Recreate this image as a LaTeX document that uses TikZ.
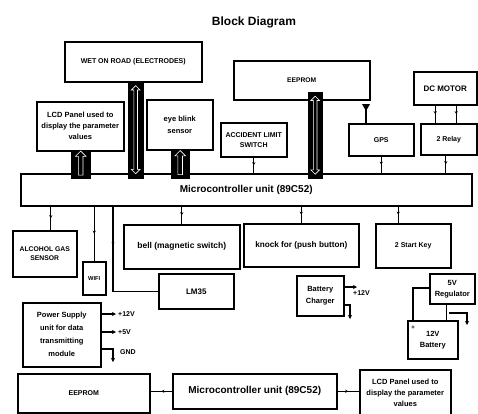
\documentclass[tikz,border=0pt]{standalone}
\usepackage{fontspec}
\setmainfont{Liberation Sans}
\usetikzlibrary{arrows.meta,shapes.arrows,decorations.markings}
\newcommand{\fz}[2]{\fontsize{#1}{#2}\selectfont\bfseries}
\begin{document}
\begin{tikzpicture}[x=1pt,y=-1pt,
  box/.style={draw, line width=1.5pt, anchor=north west, inner sep=1pt, align=center, font=\fz{7.5}{11}},
  bar/.style={fill=black, draw=black, anchor=north west, inner sep=0pt},
  dblarrow/.style={double arrow, rotate=90, draw=white, fill=black, line width=0.6pt, inner sep=1.5pt, double arrow head extend=2.5pt},
  uparrow/.style={single arrow, rotate=90, draw=white, fill=black, line width=0.6pt, inner sep=2pt, single arrow head extend=3pt},
  conn/.style={line width=1.1pt},
  mid/.style={postaction={decorate}, decoration={markings, mark=at position #1 with {\arrow{Stealth[length=3pt,width=3pt]}}}},
  mid/.default=0.5,
  tip/.style={-{Stealth[length=4pt,width=4pt]}},
  lbl/.style={font=\fz{7}{8}, inner sep=0pt, anchor=west}
]
\useasboundingbox (0,0) rectangle (478,413);
\fill[white] (0,0) rectangle (478,413);

% title
\node[font=\fz{12}{14}] (title) at (254,22) {Block Diagram};

% top boxes
\node[box, minimum width=137, minimum height=40, font=\fz{7}{9}] (wet) at (64,41) {WET ON ROAD (ELECTRODES)};
\node[box, minimum width=87, minimum height=49] (lcd1) at (36,101) {LCD Panel used to\\display the parameter\\values};
\node[box, minimum width=66, minimum height=50, font=\fz{7.5}{12}] (eye) at (146,99) {eye blink\\sensor};
\node[box, minimum width=136, minimum height=39, font=\fz{6.7}{8}] (eep1) at (233,60) {EEPROM};
\node[box, minimum width=66, minimum height=34, font=\fz{7}{10}] (acc) at (220,122) {ACCIDENT LIMIT\\SWITCH};
\node[box, minimum width=65, minimum height=32, font=\fz{7}{9}] (gps) at (348,123) {GPS};
\node[box, minimum width=63, minimum height=33, font=\fz{8}{9}] (dcm) at (413,71) {DC MOTOR};
\node[box, minimum width=56, minimum height=31, font=\fz{7}{9}] (rel) at (420,123) {2 Relay};

% microcontroller
\node[box, minimum width=451, minimum height=32, font=\fz{10}{12}] (mc) at (20,173) {Microcontroller unit (89C52)};

% bars with arrows
\node[bar, minimum width=15, minimum height=97] (b1) at (128,81) {};
\node[dblarrow, minimum height=88] (a1) at (b1.center) {};
\node[bar, minimum width=19, minimum height=28] (b2) at (71,150) {};
\node[uparrow, minimum height=24] (a2) at (b2.center) {};
\node[bar, minimum width=18, minimum height=29] (b3) at (171,149) {};
\node[uparrow, minimum height=24] (a3) at (b3.center) {};
\node[bar, minimum width=14, minimum height=86] (b4) at (308,92) {};
\node[dblarrow, minimum height=78] (a4) at (b4.center) {};

% connectors above mc
\draw[conn,mid] (acc.south) -- (acc.south |- mc.north);
\draw[conn,mid] (gps.south) -- (gps.south |- mc.north);
\draw[conn,mid] ([xshift=-3]rel.south) -- ([xshift=-3]rel.south |- mc.north);
\draw[conn,mid] ([xshift=-10]dcm.south) -- ([xshift=-10]dcm.south |- rel.north);
\draw[conn,mid] ([xshift=11]dcm.south) -- ([xshift=11]dcm.south |- rel.north);
% antenna
\coordinate (ant) at (366,108);
\draw[conn] (gps.north -| ant) -- (ant);
\fill (362,104) -- (370,104) -- (366,111) -- cycle;

% boxes below mc
\node[box, minimum width=64, minimum height=46, font=\fz{6.8}{9}] (alc) at (12,230) {ALCOHOL GAS\\SENSOR};
\node[box, minimum width=23, minimum height=33, font=\fz{5.7}{7}] (wifi) at (82,261) {WIFI};
\node[box, minimum width=116, minimum height=44, font=\fz{8.5}{10}] (bell) at (123,224) {bell (magnetic switch)};
\node[box, minimum width=115, minimum height=43, font=\fz{8.2}{10}] (knock) at (243,223) {knock for (push button)};
\node[box, minimum width=75, minimum height=44, font=\fz{7}{9}] (start) at (375,223) {2 Start Key};
\node[box, minimum width=75, minimum height=35, font=\fz{8}{9}] (lm) at (158,273) {LM35};

\draw[conn,mid] ([xshift=6]alc.north |- mc.south) -- ([xshift=6]alc.north);
\draw[conn,mid] (wifi.north |- mc.south) -- (wifi.north);
\draw[conn,mid] (bell.north |- mc.south) -- (bell.north);
\draw[conn,mid] (knock.north |- mc.south) -- (knock.north);
\draw[conn,mid] ([xshift=-15]start.north |- mc.south) -- ([xshift=-15]start.north);
\draw[conn,mid=0.3] ([xshift=93]mc.south west) |- (lm.west);

% battery charger
\node[box, minimum width=47, minimum height=40, font=\fz{7.5}{12}] (chg) at (296,275) {Battery\\Charger};
\coordinate (c12) at (357,287);
\draw[conn,tip] (chg.east |- c12) -- (c12);
\node[lbl, anchor=north west] (l12c) at (353,290) {+12V};
\coordinate (cg1) at (350,305);
\coordinate (cg2) at (350,319);
\draw[conn,tip] (chg.east |- cg1) -- (cg1) -- (cg2);

% regulator and battery
\node[box, minimum width=45, minimum height=30, font=\fz{7.5}{11}] (reg) at (429,273) {5V\\Regulator};
\node[box, minimum width=50, minimum height=38, font=\fz{7.5}{11}] (bat) at (407,320) {12V\\Battery};
\node[lbl, font=\fz{6}{7}, anchor=center] (plus) at (413,328) {+};
\coordinate (rb) at (413,288);
\draw[conn] ([xshift=6]bat.north west) |- (reg.west |- rb);
\draw[conn] ([xshift=-6]reg.south) -- ([xshift=-6]reg.south |- bat.north);
\coordinate (ro1) at (467,313);
\coordinate (ro2) at (467,325);
\draw[conn,tip] ([xshift=-3]reg.south |- ro1) -- (ro1) -- (ro2);

% power supply
\node[box, minimum width=78, minimum height=64, font=\fz{7.5}{13}] (psu) at (22,302) {Power Supply\\unit for data\\transmitting\\module};
\coordinate (p12) at (116,314);
\coordinate (p5) at (116,332);
\coordinate (pg1) at (113,349);
\coordinate (pg2) at (113,362);
\draw[conn,tip] (psu.east |- p12) -- (p12);
\draw[conn,tip] (psu.east |- p5) -- (p5);
\draw[conn,tip] (psu.east |- pg1) -- (pg1) -- (pg2);
\node[lbl] (l12) at (118,314) {+12V};
\node[lbl] (l5) at (118,332) {+5V};
\node[lbl] (lg) at (120,352) {GND};

% bottom row
\node[box, minimum width=132, minimum height=39, font=\fz{7}{9}] (eep2) at (17,373) {EEPROM};
\node[box, minimum width=164, minimum height=35, font=\fz{10}{12}] (mc2) at (172,373) {Microcontroller unit (89C52)};
\node[box, minimum width=91, minimum height=46, font=\fz{7.5}{11}] (lcd2) at (359,369) {LCD Panel used to\\display the parameter\\values};
\draw[conn,mid] (mc2.west) -- (mc2.west -| eep2.east);
\draw[conn,mid] (mc2.east) -- (mc2.east -| lcd2.west);
\end{tikzpicture}
\end{document}
